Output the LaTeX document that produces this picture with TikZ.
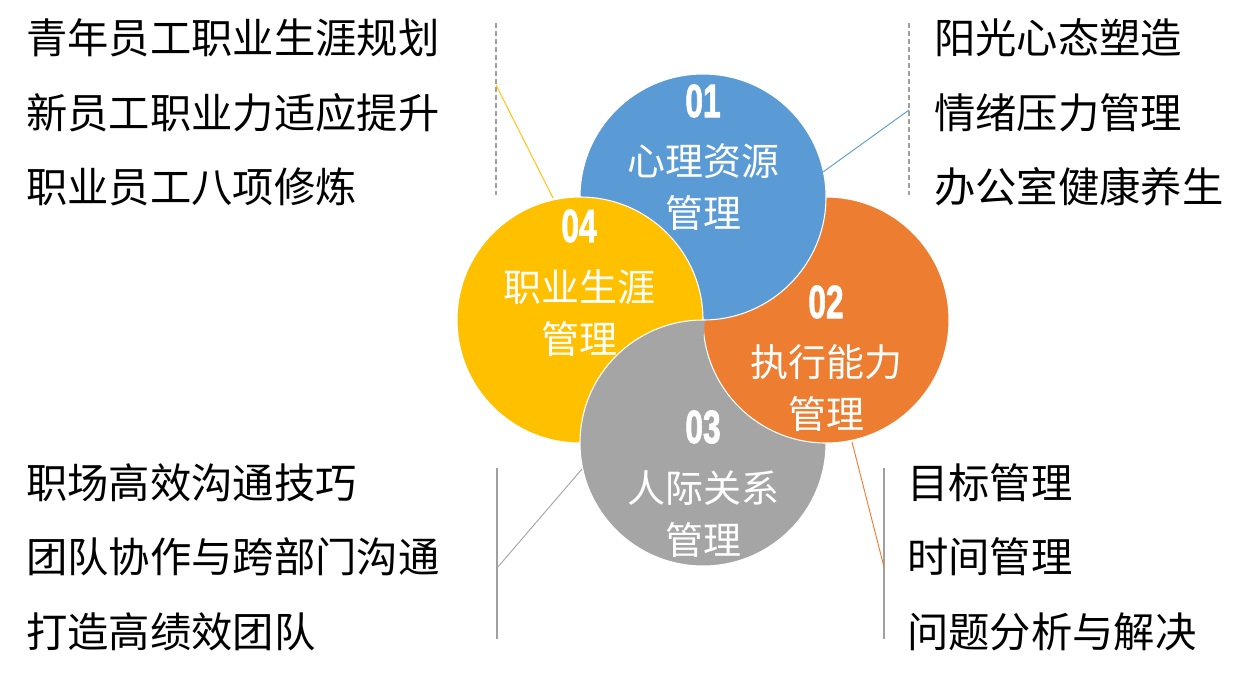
\documentclass[tikz,border=0pt]{standalone}
\usepackage{fontspec}
\setmainfont{Liberation Sans}
\newfontfamily\cjk{Noto Sans CJK SC}
\newfontfamily\numfont[BoldFeatures={FakeBold=2}]{Liberation Sans}
\definecolor{cblue}{HTML}{5B9BD5}
\definecolor{corange}{HTML}{ED7D31}
\definecolor{cgray}{HTML}{A5A5A5}
\definecolor{cyellow}{HTML}{FFC000}
\definecolor{cline}{HTML}{A0A0A0}
\tikzset{
  sidetext/.style={anchor=west,inner sep=0pt,font=\cjk\fontsize{31}{31}\selectfont,text=black},
  intext/.style={inner sep=0pt,font=\cjk\fontsize{28.5}{28.5}\selectfont,text=white},
  numtext/.style={inner sep=0pt,font=\numfont\bfseries\fontsize{35}{35}\selectfont,text=white},
  petal/.style={draw=white,line width=0.8pt},
  divdash/.style={draw=cline,dashed,line width=0.8pt,dash pattern=on 3.5pt off 2.5pt},
  divsolid/.style={draw=cline,line width=0.8pt},
  conn/.style={line width=0.7pt}
}
\newcommand{\numlbl}[1]{\scalebox{0.68}[1]{#1}}
\begin{document}
\begin{tikzpicture}[x=0.75pt,y=-0.75pt]
\useasboundingbox (0,0) rectangle (1250,682);
% centers
\coordinate (cB) at (703,197);
\coordinate (cO) at (826,320);
\coordinate (cG) at (703,443);
\coordinate (cY) at (580,320);
% petals: gray, orange, blue, yellow, then gray over yellow
\fill[cgray,petal] (cG) circle[radius=92.25pt];
\fill[corange,petal] (cO) circle[radius=92.25pt];
\fill[cblue,petal] (cB) circle[radius=92.25pt];
\fill[cyellow,petal] (cY) circle[radius=92.25pt];
\begin{scope}
  \clip (cY) circle[radius=93.5pt];
  \fill[cgray,petal] (cG) circle[radius=92.25pt];
\end{scope}
% labels inside
\node[numtext] (n1) at (703,101) {\numlbl{01}};
\node[intext] (t1a) at (703,161) {心理资源};
\node[intext] (t1b) at (703,213) {管理};
\node[numtext] (n4) at (579,226) {\numlbl{04}};
\node[intext] (t4a) at (579,287) {职业生涯};
\node[intext] (t4b) at (579,339) {管理};
\node[numtext] (n2) at (826,302) {\numlbl{02}};
\node[intext] (t2a) at (826,362) {执行能力};
\node[intext] (t2b) at (826,414) {管理};
\node[numtext] (n3) at (703,427) {\numlbl{03}};
\node[intext] (t3a) at (703,488) {人际关系};
\node[intext] (t3b) at (703,540) {管理};
% dividers
\coordinate (dTLa) at (496,23); \coordinate (dTLb) at (496,195); \coordinate (dTLm) at (496,85);
\coordinate (dTRa) at (909,23); \coordinate (dTRb) at (909,195); \coordinate (dTRm) at (909,110);
\coordinate (dBLa) at (497,468); \coordinate (dBLb) at (497,639); \coordinate (dBLm) at (497,568);
\coordinate (dBRa) at (884,468); \coordinate (dBRb) at (884,639); \coordinate (dBRm) at (884,567);
\draw[divdash] (dTLa) -- (dTLb);
\draw[divdash] (dTRa) -- (dTRb);
\draw[divsolid] (dBLa) -- (dBLb);
\draw[divsolid] (dBRa) -- (dBRb);
% connectors
\coordinate (pY) at (553,198);
\coordinate (pB) at (823,172);
\coordinate (pG) at (582,469);
\coordinate (pO) at (852,442);
\draw[conn,cyellow] (dTLm) -- (pY);
\draw[conn,cblue] (dTRm) -- (pB);
\draw[conn,cgray] (dBLm) -- (pG);
\draw[conn,corange] (dBRm) -- (pO);
% side texts
\node[sidetext] (l1) at (26,38) {青年员工职业生涯规划};
\node[sidetext] (l2) at (26,113) {新员工职业力适应提升};
\node[sidetext] (l3) at (26,187) {职业员工八项修炼};
\node[sidetext] (r1) at (934,38) {阳光心态塑造};
\node[sidetext] (r2) at (934,113) {情绪压力管理};
\node[sidetext] (r3) at (934,187) {办公室健康养生};
\node[sidetext] (l4) at (26,483) {职场高效沟通技巧};
\node[sidetext] (l5) at (26,557) {团队协作与跨部门沟通};
\node[sidetext] (l6) at (26,632) {打造高绩效团队};
\node[sidetext] (r4) at (907,483) {目标管理};
\node[sidetext] (r5) at (907,557) {时间管理};
\node[sidetext] (r6) at (907,632) {问题分析与解决};
\end{tikzpicture}
\end{document}
